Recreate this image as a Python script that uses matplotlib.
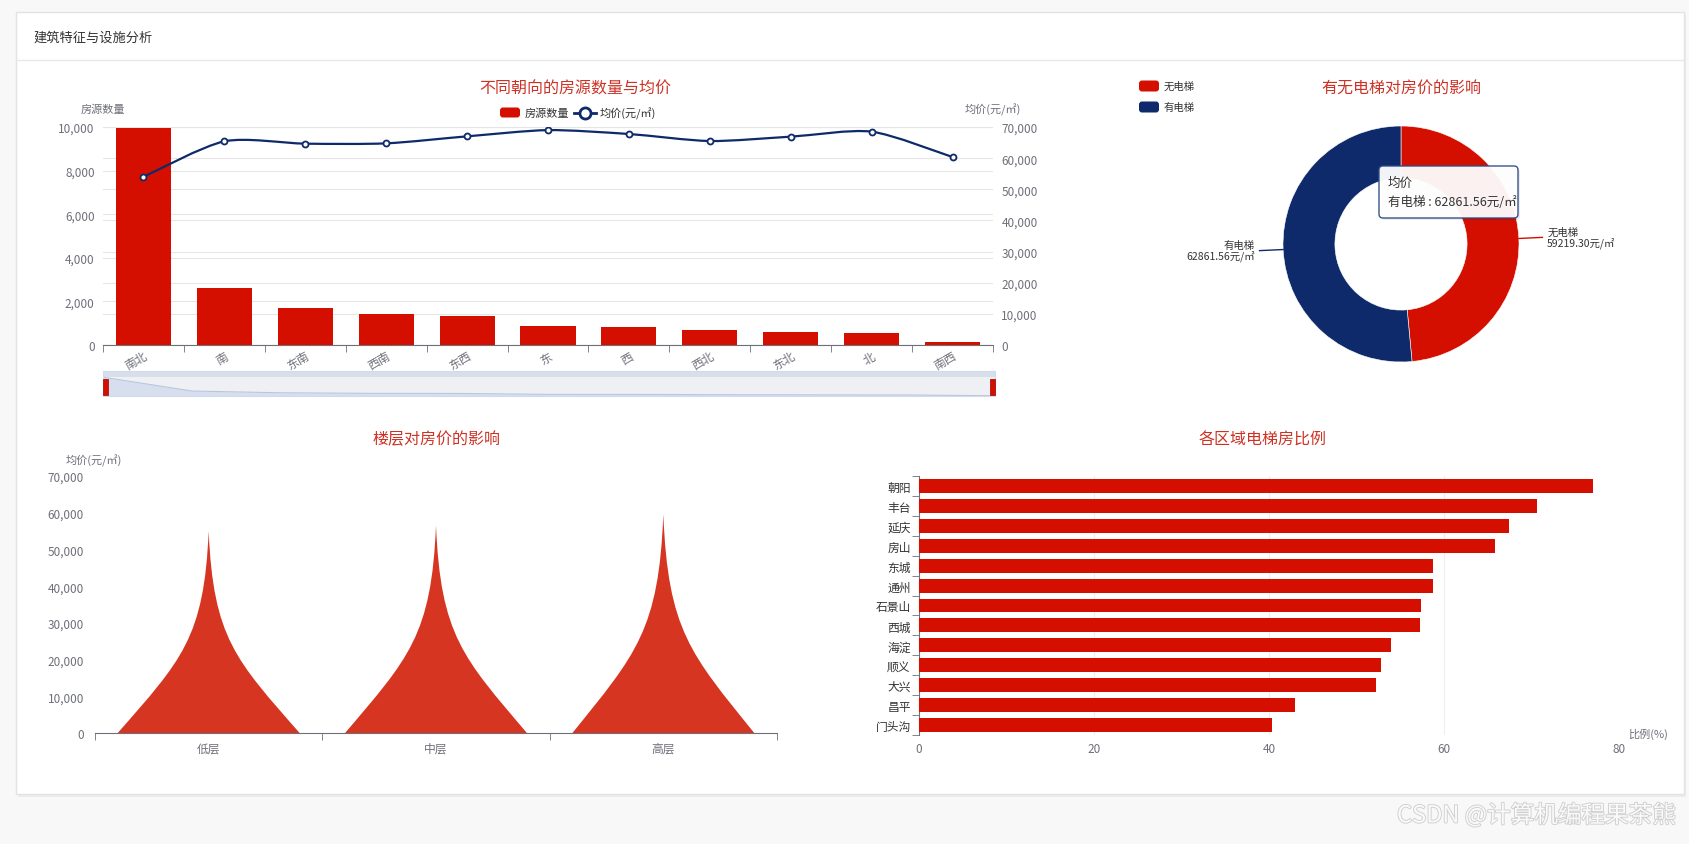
import numpy as np
import matplotlib.pyplot as plt
from matplotlib.patches import Rectangle, FancyBboxPatch, PathPatch
from matplotlib.path import Path
from matplotlib.ticker import FuncFormatter, MultipleLocator
import matplotlib.patheffects as pe

plt.rcParams['font.family'] = ['Noto Sans CJK SC', 'DejaVu Sans']

W, H = 1690, 845

# ---- data ----
orient = ['南北', '南', '东南', '西南', '东西', '东', '西', '西北', '东北', '北', '南西']
orient_count = [9950, 2620, 1700, 1410, 1350, 860, 830, 690, 600, 550, 120]
orient_price = [54000, 65400, 64650, 64750, 67000, 69000, 67750, 65500, 66900, 68500, 60350]

lift_names = ['无电梯', '有电梯']
lift_price = [59219.30, 62861.56]

floor_names = ['低层', '中层', '高层']
floor_price = [55000, 56600, 59600]

district = ['朝阳', '丰台', '延庆', '房山', '东城', '通州', '石景山', '西城',
            '海淀', '顺义', '大兴', '昌平', '门头沟']
district_ratio = [77.0, 70.6, 67.4, 65.8, 58.8, 58.7, 57.4, 57.3, 53.9, 52.8, 52.2, 43.0, 40.3]

# ---- styles ----
RED = '#d40f00'
NAVY = '#0f2a6b'
SPIKE = '#d63522'
TITLE = '#cc3326'
TXT = '#6e7079'
AXIS = '#6e7079'
GRID = '#e6e6e6'
TS = 8.5

fig = plt.figure(figsize=(W / 100, H / 100), dpi=100)
fig.patch.set_facecolor('#f8f8f8')


def add_ax(l, t, r, b, **kw):
    return fig.add_axes([l / W, 1 - b / H, (r - l) / W, (b - t) / H], **kw)


def pixel_layer(z):
    a = fig.add_axes([0, 0, 1, 1], zorder=z)
    a.set_xlim(0, W)
    a.set_ylim(H, 0)
    a.axis('off')
    a.patch.set_visible(False)
    return a


thousands = FuncFormatter(lambda v, p: f'{int(v):,}')

# background card
bg = pixel_layer(-10)
bg.add_patch(Rectangle((18, 16), 1668, 782, fc='#ececec', ec='none'))
bg.add_patch(Rectangle((16, 13), 1668, 782, fc='white', ec='#e3e3e3', lw=1))
bg.plot([16, 1684], [61, 61], color='#e8e8e8', lw=1)

fg = pixel_layer(10)
fg.text(33, 38, '建筑特征与设施分析', fontsize=9.5, color='#333333', va='center')

# ---- chart 1: orientation bars + price line ----
ax1 = add_ax(103, 128, 993, 346)
ax2 = ax1.twinx()
ax1.set_zorder(ax2.get_zorder() + 1)
ax1.patch.set_visible(False)

x = np.arange(len(orient))
ax1.bar(x, orient_count, width=0.68, color=RED, zorder=3)


def smooth_path(xs, ys, k=0.13):
    pts = np.column_stack([xs, ys]).astype(float)
    n = len(pts)
    verts, codes = [pts[0]], [Path.MOVETO]
    for i in range(n - 1):
        p0, p1 = pts[max(i - 1, 0)], pts[i]
        p2, p3 = pts[i + 1], pts[min(i + 2, n - 1)]
        verts += [p1 + (p2 - p0) * k, p2 - (p3 - p1) * k, p2]
        codes += [Path.CURVE4] * 3
    return Path(verts, codes)


ax1.add_patch(PathPatch(smooth_path(x, orient_price), transform=ax2.transData,
                        fill=False, ec=NAVY, lw=1.6, zorder=4))
ax1.plot(x, orient_price, 'o', transform=ax2.transData, ms=4.3, mfc='white',
         mec=NAVY, mew=1.3, zorder=5)

ax1.set_xlim(-0.5, len(orient) - 0.5)
ax1.set_ylim(0, 10000)
ax1.yaxis.set_major_locator(MultipleLocator(2000))
ax1.yaxis.set_major_formatter(thousands)
ax1.grid(axis='y', color=GRID, lw=0.8)
ax1.set_axisbelow(True)
ax1.set_xticks(x)
ax1.set_xticklabels(orient, rotation=30, ha='right', rotation_mode='anchor')
ax1.set_xticks(np.arange(-0.5, len(orient)), minor=True)
ax1.tick_params(axis='x', which='major', length=0, pad=3, labelsize=TS, labelcolor=TXT)
ax1.tick_params(axis='x', which='minor', length=5, color=AXIS)
ax1.tick_params(axis='y', length=0, pad=6, labelsize=TS, labelcolor=TXT)
for s in ['top', 'left', 'right']:
    ax1.spines[s].set_visible(False)
ax1.spines['bottom'].set_color(AXIS)

ax2.set_ylim(0, 70000)
ax2.yaxis.set_major_locator(MultipleLocator(10000))
ax2.yaxis.set_major_formatter(thousands)
ax2.grid(axis='y', color=GRID, lw=0.8)
ax2.tick_params(axis='y', length=0, pad=6, labelsize=TS, labelcolor=TXT)
for s in ax2.spines.values():
    s.set_visible(False)

fg.text(575, 89, '不同朝向的房源数量与均价', fontsize=11.5, color=TITLE, ha='center', va='center')
fg.text(103, 110, '房源数量', fontsize=8, color=TXT, ha='center', va='center')
fg.text(993, 110, '均价(元/㎡)', fontsize=8, color=TXT, ha='center', va='center')
fg.add_patch(FancyBboxPatch((500, 108.5), 20, 10, boxstyle='round,pad=0,rounding_size=3',
                            fc=RED, ec='none'))
fg.text(525, 113.5, '房源数量', fontsize=8, color='#333333', va='center')
fg.plot([574, 596], [113.5, 113.5], color=NAVY, lw=2)
fg.plot([585], [113.5], 'o', ms=8, mfc='white', mec=NAVY, mew=2)
fg.text(600, 113.5, '均价(元/㎡)', fontsize=8, color='#333333', va='center')

# data zoom slider
axd = add_ax(103, 372, 995, 397)
axd.set_facecolor('#eff0f3')
axd.fill_between(x, 0, orient_count, color='#d7dfee', lw=0)
axd.plot(x, orient_count, color='#b9c6e0', lw=0.8)
axd.set_xlim(0, len(orient) - 1)
axd.set_ylim(0, max(orient_count) * 1.33)
axd.set_xticks([])
axd.set_yticks([])
for s in axd.spines.values():
    s.set_color('#d2dbee')
axd.add_patch(Rectangle((0, 0.76), 1, 0.24, transform=axd.transAxes, fc='#d8deea', ec='none'))
fg.add_patch(Rectangle((103, 380), 5, 16, fc=RED, ec='#a00000', lw=0.5))
fg.add_patch(Rectangle((990, 380), 5, 16, fc=RED, ec='#a00000', lw=0.5))

# ---- chart 2: donut ----
axp = add_ax(1251, 95, 1551, 395)
wedges, _ = axp.pie(lift_price, colors=[RED, NAVY], startangle=90, counterclock=False,
                    radius=1, wedgeprops=dict(width=0.44, edgecolor='white', linewidth=0.4))
lim = 150 / 118
axp.set_xlim(-lim, lim)
axp.set_ylim(-lim, lim)
for w, name, val, c in zip(wedges, lift_names, lift_price, [RED, NAVY]):
    ang = np.deg2rad((w.theta1 + w.theta2) / 2)
    cx, cy = np.cos(ang), np.sin(ang)
    axp.plot([cx, cx * 1.2], [cy, cy * 1.2], color=c, lw=1, clip_on=False)
    side = 1 if cx > 0 else -1
    axp.text(cx * 1.2 + side * 0.04, cy * 1.2, f'{name}\n{val:.2f}元/㎡', fontsize=7.5,
             color='#333333', ha='left' if side > 0 else 'right', va='center',
             linespacing=0.95, clip_on=False)

fg.text(1401, 89, '有无电梯对房价的影响', fontsize=11.5, color=TITLE, ha='center', va='center')
for i, (name, c) in enumerate(zip(lift_names, [RED, NAVY])):
    yy = 87 + i * 21
    fg.add_patch(FancyBboxPatch((1139, yy - 5.5), 20, 11, boxstyle='round,pad=0,rounding_size=3',
                                fc=c, ec='none'))
    fg.text(1164, yy, name, fontsize=7.5, color='#333333', va='center')

# tooltip
fg.add_patch(FancyBboxPatch((1381, 169), 139, 52, boxstyle='round,pad=0,rounding_size=4',
                            fc='#000000', ec='none', alpha=0.08))
fg.add_patch(FancyBboxPatch((1379, 167), 139, 52, boxstyle='round,pad=0,rounding_size=4',
                            fc='white', ec='#2c4a8a', lw=1, alpha=0.95))
fg.text(1388, 183, '均价', fontsize=9, color='#333333', va='center')
fg.text(1388, 203, f'{lift_names[1]} : {lift_price[1]:.2f}元/㎡', fontsize=9,
        color='#333333', va='center', fontweight='medium')

# ---- chart 3: floor spikes ----
axf = add_ax(95, 477, 777, 734)


def spike(cx, h, hw):
    verts = [(cx - hw, 0), (cx + hw, 0),
             (cx + hw * 0.3, h * 0.36), (cx + hw * 0.05, h * 0.47), (cx, h),
             (cx - hw * 0.05, h * 0.47), (cx - hw * 0.3, h * 0.36), (cx - hw, 0),
             (cx - hw, 0)]
    codes = [Path.MOVETO, Path.LINETO, Path.CURVE4, Path.CURVE4, Path.CURVE4,
             Path.CURVE4, Path.CURVE4, Path.CURVE4, Path.CLOSEPOLY]
    return PathPatch(Path(verts, codes), fc=SPIKE, ec='none')


for i, v in enumerate(floor_price):
    axf.add_patch(spike(i, v, 0.4))
axf.set_xlim(-0.5, len(floor_names) - 0.5)
axf.set_ylim(0, 70000)
axf.yaxis.set_major_locator(MultipleLocator(10000))
axf.yaxis.set_major_formatter(thousands)
axf.set_xticks(range(len(floor_names)))
axf.set_xticklabels(floor_names)
axf.set_xticks(np.arange(-0.5, len(floor_names)), minor=True)
axf.tick_params(axis='x', which='major', length=0, pad=6, labelsize=TS, labelcolor=TXT)
axf.tick_params(axis='x', which='minor', length=5, color=AXIS)
axf.tick_params(axis='y', length=0, pad=8, labelsize=TS, labelcolor=TXT)
for s in ['top', 'left', 'right']:
    axf.spines[s].set_visible(False)
axf.spines['bottom'].set_color(AXIS)
axf.patch.set_visible(False)

fg.text(437, 440, '楼层对房价的影响', fontsize=11.5, color=TITLE, ha='center', va='center')
fg.text(94, 461, '均价(元/㎡)', fontsize=8, color=TXT, ha='center', va='center')

# ---- chart 4: district lift ratio ----
axh = add_ax(919, 477, 1619, 736)
y = np.arange(len(district))
axh.barh(y, district_ratio, height=0.7, color=RED, zorder=3)
axh.set_ylim(len(district) - 0.5, -0.5)
axh.set_xlim(0, 80)
axh.xaxis.set_major_locator(MultipleLocator(20))
axh.grid(axis='x', color='#eeeeee', lw=0.8)
axh.set_axisbelow(True)
axh.set_yticks(y)
axh.set_yticklabels(district)
axh.set_yticks(np.arange(-0.5, len(district)), minor=True)
axh.tick_params(axis='y', which='major', length=0, pad=6, labelsize=TS, labelcolor='#333333')
axh.tick_params(axis='y', which='minor', length=5, color=AXIS)
axh.tick_params(axis='x', length=0, pad=5, labelsize=TS, labelcolor=TXT)
for s in ['top', 'bottom', 'right']:
    axh.spines[s].set_visible(False)
axh.spines['left'].set_color(AXIS)
axh.patch.set_visible(False)

fg.text(1263, 440, '各区域电梯房比例', fontsize=11.5, color=TITLE, ha='center', va='center')
fg.text(1648, 734, '比例(%)', fontsize=8, color=TXT, ha='center', va='center')

# watermark
fg.text(1676, 816, 'CSDN @计算机编程果茶熊', fontsize=17, color='#fafafa', ha='right',
        va='center', path_effects=[pe.withStroke(linewidth=1.3, foreground='#cfcfcf')])

fig.savefig('out.png', dpi=100, facecolor=fig.get_facecolor())
